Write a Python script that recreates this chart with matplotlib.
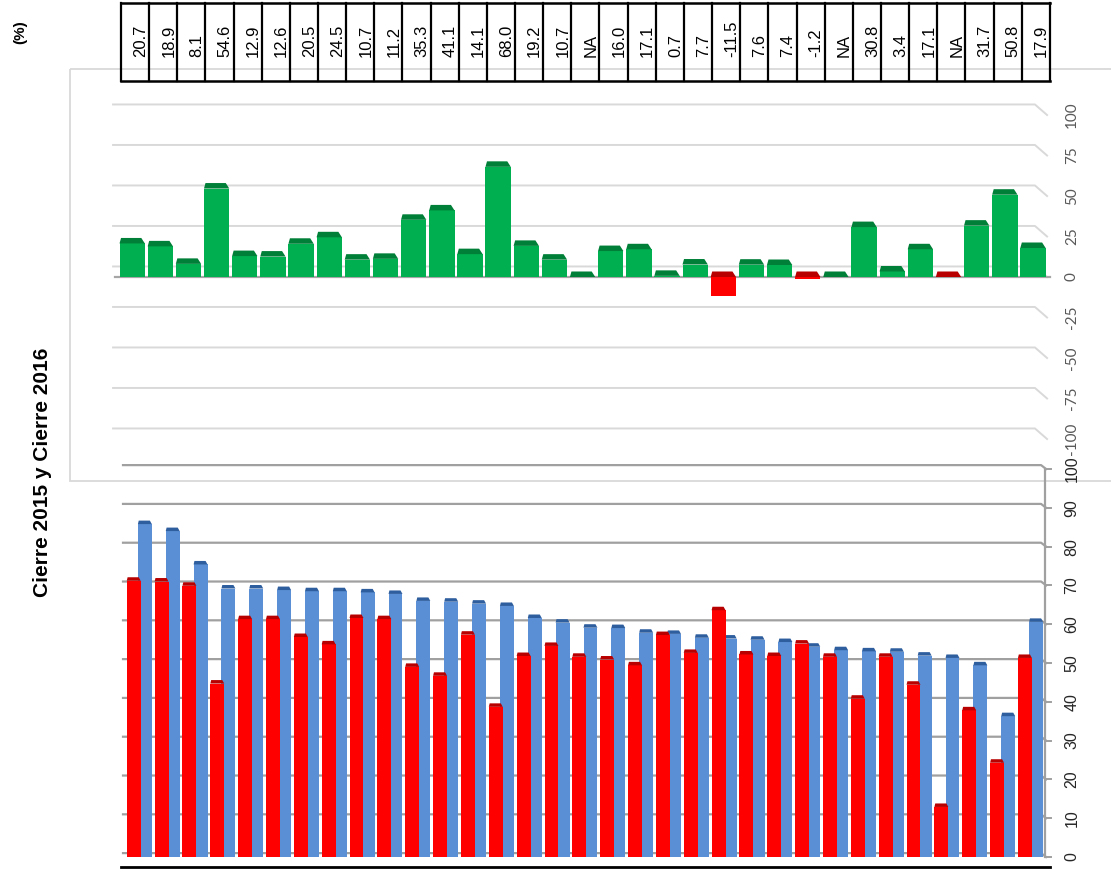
import numpy as np
import matplotlib.pyplot as plt
import matplotlib.transforms as mtransforms
from matplotlib.patches import Polygon, Rectangle

# ---- data ----
pct_labels = ['20.7', '18.9', '8.1', '54.6', '12.9', '12.6', '20.5', '24.5', '10.7', '11.2',
              '35.3', '41.1', '14.1', '68.0', '19.2', '10.7', 'NA', '16.0', '17.1', '0.7',
              '7.7', '-11.5', '7.6', '7.4', '-1.2', 'NA', '30.8', '3.4', '17.1', 'NA',
              '31.7', '50.8', '17.9']
pct_change = [None if s == 'NA' else float(s) for s in pct_labels]

cierre_2015 = [71.2, 71.0, 69.9, 44.7, 61.3, 61.3, 56.7, 54.8, 61.6, 61.3, 49.0, 46.7,
               57.3, 38.7, 51.8, 54.4, 51.6, 50.9, 49.4, 57.2, 52.6, 63.6, 52.2, 51.8,
               55.0, 51.6, 40.8, 51.6, 44.4, 12.9, 37.8, 24.3, 51.3]
cierre_2016 = [85.8, 84.0, 75.4, 69.2, 69.2, 68.8, 68.5, 68.5, 68.2, 67.8, 66.0, 65.8,
               65.3, 64.7, 61.6, 60.4, 59.1, 59.0, 57.8, 57.5, 56.5, 56.3, 56.0, 55.4,
               54.2, 53.3, 53.0, 52.9, 51.9, 51.3, 49.4, 36.3, 60.6]

top_ticks = [-100, -75, -50, -25, 0, 25, 50, 75, 100]
low_ticks = [0, 10, 20, 30, 40, 50, 60, 70, 80, 90, 100]
na_tint = {16: 'green', 25: 'green', 29: 'red'}   # colour of the flat NA markers

GREEN, GREEN_D = '#00B050', '#007F38'
RED, RED_D = '#FF0000', '#B80000'
BLUE, BLUE_D = '#5A8FD5', '#2E5E9E'

W, H = 1111, 869
n = len(pct_labels)
x = np.arange(n)

fig = plt.figure(figsize=(W / 100, H / 100), dpi=100)

# pixel axes for frames, table and titles
pax = fig.add_axes([0, 0, 1, 1])
pax.set_xlim(0, W)
pax.set_ylim(H, 0)
pax.axis('off')

# upper chart: 28.15 px per category, 1.62 px per %
top = fig.add_axes([0, 0, 1, 1], facecolor='none')
top.set_xlim((0 - 135) / 28.15, (W - 135) / 28.15)
top.set_ylim((277 - H) / 1.62, 277 / 1.62)
top.axis('off')

# lower chart: 27.85 px per category, 3.88 px per %
low = fig.add_axes([0, 0, 1, 1], facecolor='none')
low.set_xlim((0 - 139.3) / 27.85, (W - 139.3) / 27.85)
low.set_ylim((857 - H) / 3.88, 857 / 3.88)
low.axis('off')

top_xpix = mtransforms.blended_transform_factory(top.transData, pax.transData)
pix_ytop = mtransforms.blended_transform_factory(pax.transData, top.transData)
pix_ylow = mtransforms.blended_transform_factory(pax.transData, low.transData)

# upper chart frame
pax.add_patch(Rectangle((70, 69), 1100, 412, fill=False, ec='#D9D9D9', lw=1.3, zorder=0))


def draw_caps(ax, xs, tops, width, h, color, z):
    # darker top face of the pseudo-3D bars
    for xc, t in zip(xs, tops):
        x0, x1 = xc - width / 2, xc + width / 2
        pts = [(x0, t), (x0 + width * 0.06, t + h), (x1 - width * 0.14, t + h), (x1, t)]
        ax.add_patch(Polygon(pts, closed=True, fc=color, ec='none', zorder=z))


# ---- upper chart ----
for v in top_ticks:
    off = 6.5
    top.plot([-0.78, 31.97, 32.4], [v + off, v + off, v], color='#D9D9D9', lw=1.4, zorder=1)
top.plot([-0.72, 32.5], [0, 0], color='#A6A6A6', lw=1.6, zorder=2)

pos_i = [i for i, v in enumerate(pct_change) if v is not None and v >= 0]
neg_i = [i for i, v in enumerate(pct_change) if v is not None and v < 0]
bw = 0.9
top.bar(x[pos_i] - 0.1, [pct_change[i] for i in pos_i], width=bw, color=GREEN, zorder=3)
top.bar(x[neg_i] - 0.1, [pct_change[i] for i in neg_i], width=bw, color=RED, zorder=3)
draw_caps(top, x[pos_i] - 0.1, [pct_change[i] for i in pos_i], bw, 3.4, GREEN_D, 4)
draw_caps(top, x[neg_i] - 0.1, [0] * len(neg_i), bw, 3.4, RED_D, 4)
for i, tint in na_tint.items():
    draw_caps(top, [x[i] - 0.1], [0], bw, 3.4, GREEN_D if tint == 'green' else RED_D, 4)

for v in top_ticks:
    top.text(1072, v, str(v), transform=pix_ytop, rotation=90, ha='center', va='center',
             fontsize=11, color='#595959', family='Lato')

# ---- lower chart ----
for v in low_ticks:
    low.plot([-0.585, 32.38, 32.56], [v + 1.0, v + 1.0, v], color='#A0A0A0', lw=1.6, zorder=1)
low.plot([32.53, 32.53], [0, 100], color='#A0A0A0', lw=1.6, zorder=1)
for v in low_ticks:
    low.plot([32.53, 32.75], [v, v], color='#A0A0A0', lw=1.4, zorder=1)

rw = 0.5
low.bar(x + 0.2, cierre_2016, width=rw, color=BLUE, zorder=3)
draw_caps(low, x + 0.2, cierre_2016, rw, 0.9, BLUE_D, 4)
low.bar(x - 0.2, cierre_2015, width=rw, color=RED, zorder=5)
draw_caps(low, x - 0.2, cierre_2015, rw, 0.9, RED_D, 6)

for v in low_ticks:
    low.text(1072, v, str(v), transform=pix_ylow, rotation=90, ha='center', va='center',
             fontsize=11.5, color='#262626', family='Liberation Sans')

pax.plot([121, 1050], [866.5, 866.5], color='black', lw=2)

# ---- table of % changes ----
for i in range(n + 1):
    pax.plot([i - 0.5, i - 0.5], [3, 81], color='black', lw=1.6, transform=top_xpix)
for yy in (3, 81):
    pax.plot([-0.5, n - 0.5], [yy, yy], color='black', lw=1.8, transform=top_xpix)
for i, s in enumerate(pct_labels):
    pax.text(x[i] + 0.2, 57, s, transform=top_xpix, rotation=90, rotation_mode='anchor',
             ha='left', va='center', fontsize=12, family='Liberation Sans')

# ---- titles ----
pax.text(20, 32, '(%)', rotation=90, ha='center', va='center', fontsize=11,
         fontweight='bold', family='Liberation Sans')
pax.text(43, 472, 'Cierre 2015 y Cierre 2016', rotation=90, ha='center', va='center',
         fontsize=15, fontweight='bold', family='Liberation Sans')

fig.savefig('out.png', dpi=100)
